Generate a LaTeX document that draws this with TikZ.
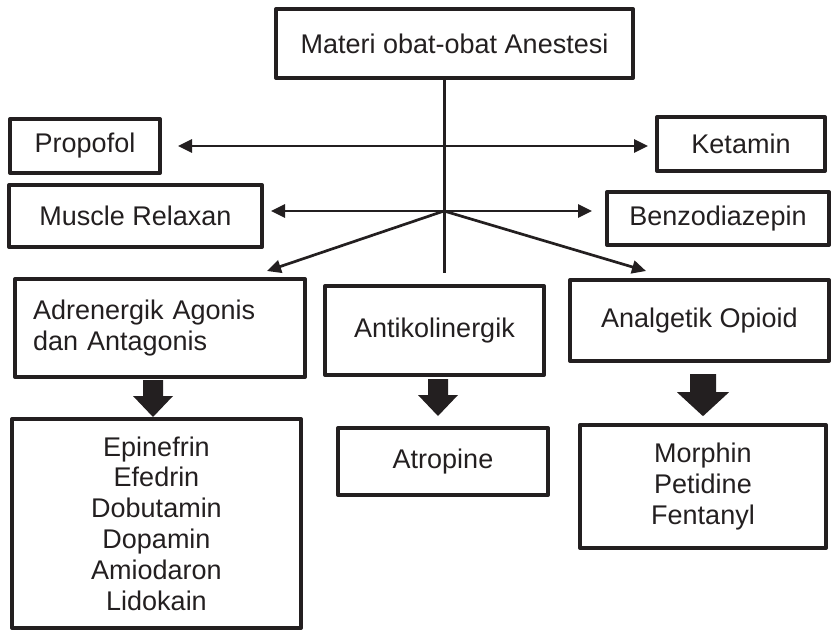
\documentclass[tikz,border=0pt]{standalone}
\usepackage{fontspec}
\setmainfont{Liberation Sans}
\usetikzlibrary{arrows.meta}
\definecolor{ink}{HTML}{231F20}
\begin{document}
\begin{tikzpicture}[x=0.5pt,y=-0.5pt,
  box/.style={draw=ink, line width=2pt, line join=round, text=ink, inner sep=0pt,
    align=center, font=\fontsize{13.5}{15.4}\selectfont},
  link/.style={draw=ink, line width=1.35pt, -{Triangle[length=7pt,width=6.5pt]}},
  blockarrow/.pic={\fill[ink] (-10,0) -- (10,0) -- (10,16) -- (20,16) -- (0,37) -- (-20,16) -- (-10,16) -- cycle;}
]
\useasboundingbox (0,0) rectangle (832,633);

% boxes
\node[box, minimum width=178.5pt, minimum height=34.5pt] (title) at (454.5,43.5) {Materi obat-obat Anestesi};
\node[box, minimum width=75pt, minimum height=27pt] (propofol) at (85,146) {Propofol};
\node[box, minimum width=84pt, minimum height=27pt] (ketamin) at (741,144) {Ketamin};
\node[box, minimum width=126.5pt, minimum height=31pt] (muscle) at (135.5,216) {Muscle Relaxan};
\node[box, minimum width=111pt, minimum height=26.5pt] (benzo) at (718,218.5) {Benzodiazepin};
\node[box, minimum width=145pt, minimum height=49pt, text width=127pt, inner xsep=9pt, align=left] (adren) at (160,328) {Adrenergik Agonis\\dan Antagonis};
\node[box, minimum width=109.5pt, minimum height=44.5pt] (antikol) at (434.5,330.5) {Antikolinergik};
\node[box, minimum width=129.5pt, minimum height=40.5pt] (analg) at (699.5,320.5) {Analgetik Opioid};
\node[box, minimum width=144.5pt, minimum height=104.5pt] (epi) at (156.5,523.5) {Epinefrin\\Efedrin\\Dobutamin\\Dopamin\\Amiodaron\\Lidokain};
\node[box, minimum width=105pt, minimum height=33.5pt] (atropine) at (443,461.5) {Atropine};
\node[box, minimum width=123pt, minimum height=61.5pt] (morphin) at (703,486.5) {Morphin\\Petidine\\Fentanyl};

% trunk and branches
\coordinate (hubA) at (444,146);
\coordinate (hubB) at (444,211);
\coordinate (stem) at (444,273);
\draw[ink, line width=1.5pt] (title.south -| stem) -- (stem);
\draw[link, shorten >=8pt] (hubA) -- (hubA -| propofol.east);
\draw[link, shorten >=3.5pt] (hubA) -- (hubA -| ketamin.west);
\draw[link, shorten >=3.5pt] (hubB) -- (hubB -| muscle.east);
\draw[link, shorten >=6.5pt] (hubB) -- (hubB -| benzo.west);
\draw[link] (hubB) -- ([xshift=-20pt,yshift=3pt]adren.north east);
\draw[link] (hubB) -- ([xshift=39pt,yshift=3.5pt]analg.north west);

% block arrows down to the drug lists
\pic at ([xshift=-3.5pt,yshift=-0.5pt]adren.south) {blockarrow};
\pic at ([xshift=1.75pt,yshift=-1pt]antikol.south) {blockarrow};
\pic[xscale=1.3,yscale=1.14] at ([xshift=1.75pt,yshift=-5.5pt]analg.south) {blockarrow};
\end{tikzpicture}
\end{document}
